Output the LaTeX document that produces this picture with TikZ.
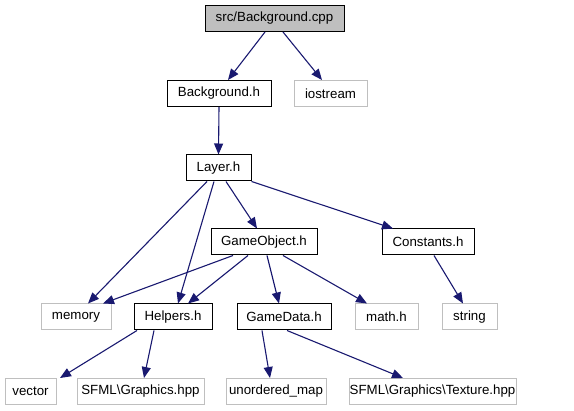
\documentclass[tikz,border=0pt]{standalone}
\usepackage{fontspec}
\setmainfont{Liberation Sans}
\usetikzlibrary{arrows.meta}
\definecolor{edgecol}{HTML}{191970}
\definecolor{extgray}{HTML}{BFBFBF}
\tikzset{
  box/.style={draw=black, line width=1pt, minimum height=26pt, inner sep=0pt,
    font=\fontsize{13.3}{16}\selectfont, fill=white},
  extbox/.style={box, draw=extgray},
  rootbox/.style={box, fill=extgray},
  dep/.style={draw=edgecol, line width=1.1pt, -{Triangle[length=11pt,width=9pt]}, color=edgecol}
}
\begin{document}
\begin{tikzpicture}[x=1pt,y=-1pt]
\useasboundingbox (0,0) rectangle (574,411);
% row 0
\node[rootbox, minimum width=139pt] (root) at (274.5,18.5) {src/Background.cpp};
% row 1
\node[box, minimum width=104pt] (bgh) at (219,93.5) {Background.h};
\node[extbox, minimum width=73pt] (ios) at (330.5,93.5) {iostream};
% row 2
\node[box, minimum width=65pt] (layer) at (218.5,168) {Layer.h};
% row 3
\node[box, minimum width=106pt] (go) at (264,242) {GameObject.h};
\node[box, minimum width=92pt] (const) at (428,242) {Constants.h};
% row 4
\node[extbox, minimum width=70pt] (mem) at (76,317) {memory};
\node[box, minimum width=78pt] (help) at (173,317) {Helpers.h};
\node[box, minimum width=94pt] (gd) at (284,317) {GameData.h};
\node[extbox, minimum width=63pt] (math) at (386.5,317) {math.h};
\node[extbox, minimum width=55pt] (str) at (469.5,317) {string};
% row 5
\node[extbox, minimum width=51pt] (vec) at (30.5,391.5) {vector};
\node[extbox, minimum width=127pt] (sfg) at (140.5,391.5) {SFML\textbackslash Graphics.hpp};
\node[extbox, minimum width=100pt] (umap) at (276,391.5) {unordered\_map};
\node[extbox, minimum width=167pt] (tex) at (432.5,391.5) {SFML\textbackslash Graphics\textbackslash Texture.hpp};
% edges
\draw[dep] ([xshift=-9.5pt]root.south) -- ([xshift=9pt]bgh.north);
\draw[dep] ([xshift=8.5pt]root.south) -- ([xshift=-8.5pt]ios.north);
\draw[dep] (bgh.south) -- (layer.north);
\draw[dep] ([xshift=-11.5pt]layer.south) -- ([xshift=12pt]mem.north);
\draw[dep] ([xshift=-4.5pt]layer.south) -- ([xshift=5pt]help.north);
\draw[dep] ([xshift=7.5pt]layer.south) -- ([xshift=-7pt]go.north);
\draw[dep] (layer.south east) -- ([xshift=-35pt]const.north);
\draw[dep] ([xshift=-31pt]go.south) -- ([xshift=27pt]mem.north);
\draw[dep] ([xshift=-16pt]go.south) -- ([xshift=15pt]help.north);
\draw[dep] ([xshift=3pt]go.south) -- ([xshift=-5pt]gd.north);
\draw[dep] ([xshift=19pt]go.south) -- ([xshift=-19.5pt]math.north);
\draw[dep] ([xshift=6pt]const.south) -- ([xshift=-6.5pt]str.north);
\draw[dep] ([xshift=-36pt]help.south) -- ([xshift=29.5pt]vec.north);
\draw[dep] ([xshift=-19pt]help.south) -- ([xshift=3.5pt]sfg.north);
\draw[dep] ([xshift=-22pt]gd.south) -- ([xshift=-6pt]umap.north);
\draw[dep] ([xshift=3pt]gd.south) -- ([xshift=-29.5pt]tex.north);
\end{tikzpicture}
\end{document}
